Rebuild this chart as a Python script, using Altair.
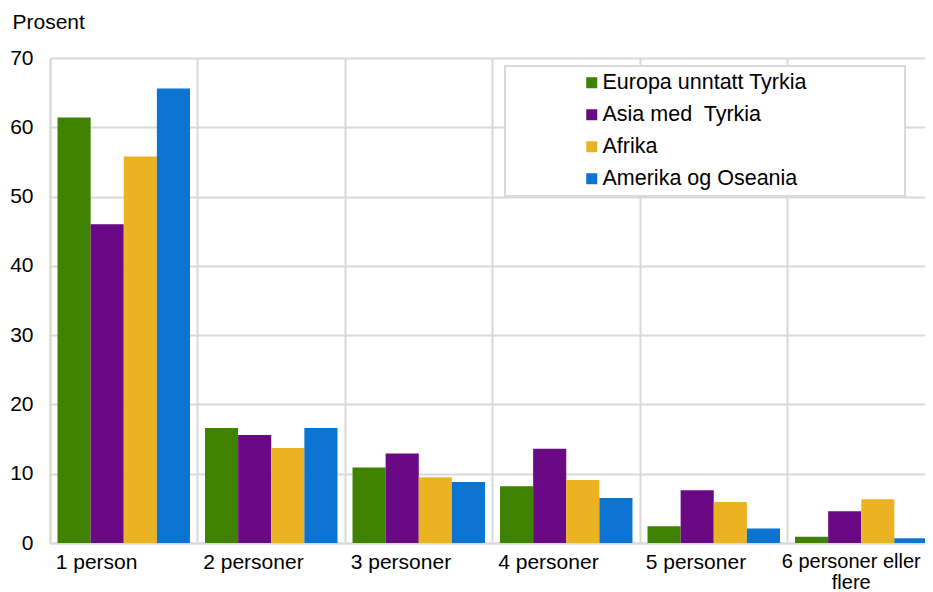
import altair as alt
import pandas as pd

categories = ["1 person", "2 personer", "3 personer", "4 personer", "5 personer", "6 personer eller flere"]
regions = ["Europa unntatt Tyrkia", "Asia med\u00a0 Tyrkia", "Afrika", "Amerika og Oseania"]
colors = ["#3f8200", "#690984", "#ebb322", "#0a74d0"]

europa = [61.4, 16.6, 10.9, 8.2, 2.4, 0.9]
asia = [46.0, 15.6, 12.9, 13.6, 7.6, 4.6]
afrika = [55.8, 13.7, 9.5, 9.1, 5.9, 6.3]
amerika = [65.6, 16.6, 8.8, 6.5, 2.1, 0.7]

series = [europa, asia, afrika, amerika]
rows = []
for reg, vals in zip(regions, series):
    for cat, v in zip(categories, vals):
        rows.append({"kategori": cat, "region": reg, "verdi": v})
df = pd.DataFrame(rows)

FONT = "Liberation Sans"
GRID = "#d9d9d9"
FS = 21
PADSTR = "\u00a0" * 12 + "\u2009" + "\u2800"
last = categories[-1]
is_last = f"datum.value == '{last}'"

chart = alt.Chart(df).mark_bar().encode(
    x=alt.X(
        "kategori:N",
        sort=categories,
        scale=alt.Scale(paddingInner=0, paddingOuter=0),
        axis=alt.Axis(
            title=None,
            grid=True,
            gridColor=GRID,
            gridWidth=2,
            bandPosition=0,
            ticks=False,
            domainColor=GRID,
            domainWidth=2,
            labelAngle=0,
            labelFont=FONT,
            labelFontSize={"condition": {"test": is_last, "value": 20}, "value": FS},
            labelColor="#000000",
            labelPadding=8,
            labelLineHeight=21,
            labelLimit=300,
            labelBaseline="top",
            labelExpr=f"{is_last} ? ['6 personer eller', 'flere'] : datum.value",
            labelAlign={"condition": {"test": is_last, "value": "center"}, "value": "left"},
            labelOffset={"condition": {"test": is_last, "value": -10}, "value": -68},
        ),
    ),
    xOffset=alt.XOffset(
        "region:N",
        sort=regions,
        scale=alt.Scale(paddingInner=0, paddingOuter=0.227),
    ),
    y=alt.Y(
        "verdi:Q",
        scale=alt.Scale(domain=[0, 70], nice=False),
        axis=alt.Axis(
            values=[0, 10, 20, 30, 40, 50, 60, 70],
            title="Prosent",
            titleAngle=0,
            titleAlign="left",
            titleBaseline="middle",
            titleX=-38,
            titleY=-36,
            titleFont=FONT,
            titleFontSize=FS,
            titleFontWeight="normal",
            titleColor="#000000",
            labelFont=FONT,
            labelFontSize=FS,
            labelColor="#000000",
            labelPadding=17,
            ticks=False,
            grid=True,
            gridColor=GRID,
            gridWidth=2,
            domainColor=GRID,
            domainWidth=2,
        ),
    ),
    color=alt.Color(
        "region:N",
        sort=regions,
        scale=alt.Scale(domain=regions, range=colors),
        legend=alt.Legend(
            title=None,
            orient="none",
            legendX=455,
            legendY=8,
            fillColor="#ffffff",
            strokeColor=GRID,
            padding=6,
            symbolOffset=70,
            symbolType="square",
            symbolSize=121,
            symbolStrokeWidth=0,
            labelFont=FONT,
            labelFontSize=21.5,
            labelColor="#000000",
            labelOffset=0,
            labelLimit=600,
            rowPadding=9,
            labelExpr=f"datum.label + '{PADSTR}'",
        ),
    ),
).properties(
    width=885,
    height=485,
    padding={"left": 42, "top": 50, "right": -10, "bottom": 50},
    autosize=alt.AutoSizeParams(type="none"),
).configure_view(stroke=None).configure_legend(strokeWidth=2)

chart.save("out.html", embed_options={"renderer": "svg", "actions": False})
